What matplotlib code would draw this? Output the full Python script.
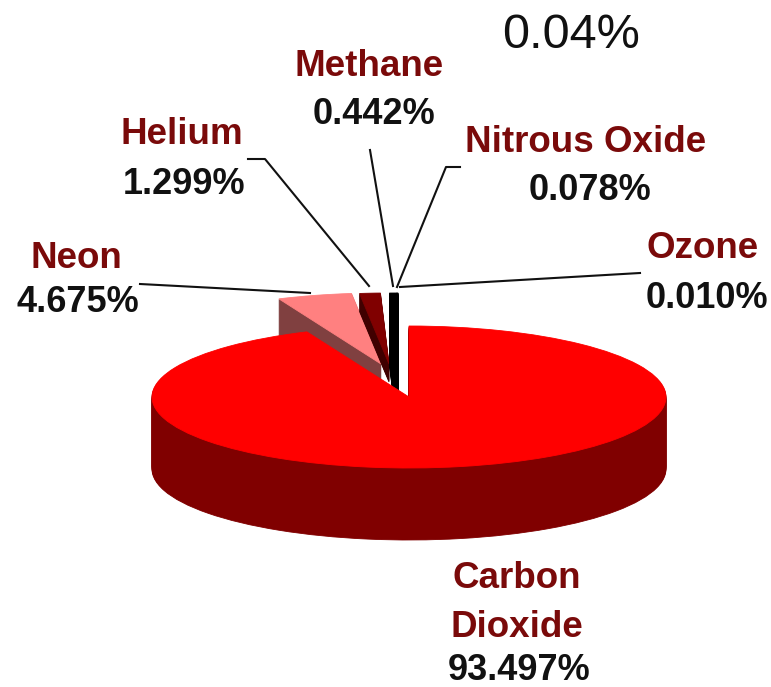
import matplotlib
matplotlib.use("Agg")
import matplotlib.pyplot as plt
from matplotlib.patches import Wedge
from matplotlib.transforms import Affine2D

gases = ["Carbon\nDioxide", "Neon", "Helium", "Methane", "Nitrous Oxide", "Ozone"]
percent = [93.497, 4.675, 1.299, 0.442, 0.078, 0.010]
annotation = "0.04%"

top_colors = ["#ff0000", "#ff8080", "#800000", "#000000", "#000000", "#000000"]
wall_colors = ["#800000", "#804040", "#400000", "#000000", "#000000", "#000000"]
offsets = [(0, 0), (-28, -33), (-20, -33), (-11, -33), (-11, -33), (-11, -33)]
depths = [72, 72, 18, 72, 72, 72]
name_pos = [(517, 603), (76, 259), (182, 134), (369, 67), (586, 143), (703, 249)]
value_pos = [(519, 670), (78, 303), (184, 185), (374, 115), (590, 190), (707, 299)]
leaders = [None,
           [(140, 284), (310, 293)],
           [(248, 159), (265, 159), (369, 286)],
           [(370, 150), (393, 286)],
           [(460, 167), (446, 167), (397, 287)],
           [(640, 273), (400, 287)]]

CX, CY, RX, RY = 409, 397, 257, 71
FONT = "Liberation Sans"

fig = plt.figure(figsize=(7.71, 6.87), dpi=100)
ax = fig.add_axes([0, 0, 1, 1])
ax.set_xlim(0, 771)
ax.set_ylim(687, 0)
ax.axis("off")

total = sum(percent)
angles = []
start = 0.0
for p in percent:
    end = start + 360.0 * p / total
    angles.append((start, end))
    start = end


def slice_patch(i, shift, color, z):
    dx, dy = offsets[i]
    a, b = angles[i]
    tr = Affine2D().scale(RX, -RY).translate(CX + dx, CY + dy + shift) + ax.transData
    w = Wedge((0, 0), 1.0, 90 - b, 90 - a, transform=tr, facecolor=color,
              edgecolor=color, linewidth=0.6, zorder=z)
    ax.add_patch(w)


for i in [1, 2, 3, 4, 5, 0]:
    base = 10 * (i if i else 10)
    for s in range(depths[i], 0, -1):
        slice_patch(i, s, wall_colors[i], base)
    slice_patch(i, 0, top_colors[i], base + 1)

for pts in leaders:
    if pts:
        ax.plot([p[0] for p in pts], [p[1] for p in pts], color="#111111", lw=1.5, zorder=5)

for name, val, np_, vp in zip(gases, percent, name_pos, value_pos):
    ax.text(np_[0], np_[1], name, color="#7a0a0a", family=FONT, weight="bold", fontsize=26.5,
            ha="center", va="center", linespacing=1.49, zorder=200)
    ax.text(vp[0], vp[1], f"{val:.3f}%", color="#111111", family=FONT, weight="bold", fontsize=26,
            ha="center", va="center", zorder=200)

ax.text(571, 36, annotation, color="#111111", family=FONT, fontsize=35, ha="center", va="center")

fig.savefig("out.png", dpi=100)
